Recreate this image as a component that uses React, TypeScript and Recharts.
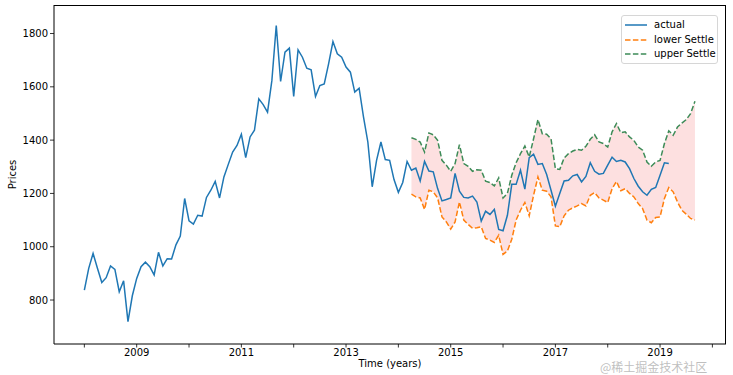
import React from "react";
import { Area, ComposedChart, Line, XAxis, YAxis } from "recharts";

// monthly closes from Jan 2008 to Mar 2019
const startYear = 2008;
const actualPrices = [
  837, 919, 975, 919, 866, 884, 928, 915, 831, 872, 719, 816,
  881, 925, 942, 925, 894, 979, 928, 955, 954, 1007, 1040, 1181,
  1097, 1085, 1118, 1115, 1185, 1212, 1245, 1183, 1262, 1309, 1355, 1380,
  1422, 1334, 1412, 1437, 1555, 1533, 1505, 1624, 1830, 1620, 1730, 1745,
  1564, 1739, 1711, 1670, 1664, 1564, 1605, 1611, 1686, 1770, 1724, 1711,
  1674, 1655, 1580, 1595, 1487, 1393, 1225, 1324, 1393, 1327, 1324, 1252,
  1204, 1241, 1320, 1287, 1295, 1247, 1320, 1284, 1281, 1218, 1172, 1177,
  1183, 1275, 1208, 1185, 1183, 1190, 1168, 1096, 1133, 1121, 1140, 1065,
  1060, 1118, 1234, 1234, 1287, 1216, 1334, 1347, 1309, 1312, 1271, 1212,
  1152, 1200, 1247, 1249, 1266, 1271, 1243, 1264, 1315, 1283, 1272, 1275,
  1306, 1336, 1320, 1324, 1318, 1293, 1256, 1227, 1206, 1193, 1215, 1222,
  1268, 1315, 1312,
];

// settle band starts Apr 2014 (month index 75) and runs to Sep 2019
const settleStart = 75;
const lowerSettle = [
  1197, 1187, 1183, 1140, 1212, 1206, 1183, 1112, 1093,
  1066, 1093, 1168, 1100, 1084, 1069, 1071, 1075, 1031, 1025, 1016, 1043,
  971, 984, 1028, 1100, 1137, 1166, 1116, 1193, 1262, 1212, 1208, 1187,
  1078, 1075, 1116, 1137, 1146, 1153, 1162, 1153, 1193, 1203, 1183, 1175,
  1166, 1218, 1245, 1210, 1218, 1200, 1187, 1162, 1143, 1100, 1090, 1110,
  1112, 1181, 1222, 1206, 1168, 1137, 1122, 1106, 1100,
];
const upperSettle = [
  1409, 1403, 1393, 1355, 1427, 1420, 1399, 1324, 1306,
  1283, 1312, 1383, 1312, 1302, 1283, 1289, 1287, 1246, 1241, 1228, 1258,
  1183, 1200, 1268, 1315, 1349, 1378, 1337, 1405, 1477, 1424, 1422, 1405,
  1293, 1290, 1333, 1349, 1359, 1365, 1362, 1377, 1403, 1420, 1393, 1387,
  1374, 1431, 1462, 1428, 1431, 1412, 1399, 1374, 1362, 1318, 1302, 1318,
  1324, 1387, 1435, 1418, 1449, 1464, 1477, 1499, 1546,
];

const yearTicks = [2008, 2009, 2010, 2011, 2012, 2013, 2014, 2015, 2016, 2017, 2018, 2019, 2020];
const priceTicks = [800, 1000, 1200, 1400, 1600, 1800];

const FONT = "'DejaVu Sans', sans-serif";

const monthCount = settleStart + lowerSettle.length;
const data = Array.from({ length: monthCount }, (_, m) => {
  const i = m - settleStart;
  const inBand = i >= 0;
  return {
    t: startYear + m / 12,
    actual: m < actualPrices.length ? actualPrices[m] : null,
    lower: inBand ? lowerSettle[i] : null,
    upper: inBand ? upperSettle[i] : null,
    band: inBand ? [lowerSettle[i], upperSettle[i]] : null,
  };
});

const YearTick = (props: any) => {
  const { x, y, payload } = props;
  const v = Math.round(payload.value);
  return (
    <g>
      <line x1={x} x2={x} y1={y} y2={y + 3.5} stroke="#000" strokeWidth={0.8} />
      {v % 2 === 1 && (
        <text x={x} y={y + 12} textAnchor="middle" fontSize={10} fontFamily={FONT} fill="#000">
          {v}
        </text>
      )}
    </g>
  );
};

const legendItems = [
  { name: "actual", color: "#1f77b4", dash: undefined },
  { name: "lower Settle", color: "#ff7f0e", dash: "5.5 2.4" },
  { name: "upper Settle", color: "#3d8b57", dash: "5.5 2.4" },
];

export default function App() {
  return (
    <div style={{ position: "absolute", left: 0, top: 0, width: 733, height: 375, background: "#fff" }}>
      <ComposedChart
        width={733}
        height={375}
        data={data}
        margin={{ top: 5, right: 7, left: 0, bottom: 0 }}
      >
        <XAxis
          dataKey="t"
          type="number"
          domain={[2007.42, 2020.26]}
          ticks={yearTicks}
          tick={<YearTick />}
          tickLine={false}
          tickSize={0}
          tickMargin={0}
          height={31}
          axisLine={{ stroke: "#000", strokeWidth: 1 }}
          interval={0}
          allowDataOverflow
          label={{
            value: "Time (years)",
            position: "insideBottom",
            offset: 8,
            fontSize: 10,
            fontFamily: FONT,
            fill: "#000",
          }}
        />
        <YAxis
          type="number"
          domain={[635, 1907]}
          ticks={priceTicks}
          width={54}
          tickSize={4}
          tickMargin={2}
          interval={0}
          allowDataOverflow
          tick={{ fontSize: 10, fontFamily: FONT, fill: "#000" }}
          tickLine={{ stroke: "#000", strokeWidth: 0.8 }}
          axisLine={{ stroke: "#000", strokeWidth: 1 }}
          label={{
            value: "Prices",
            angle: -90,
            position: "insideLeft",
            offset: 12,
            style: { textAnchor: "middle" },
            fontSize: 10,
            fontFamily: FONT,
            fill: "#000",
          }}
        />
        <Area
          dataKey="band"
          stroke="none"
          fill="#fde0e0"
          fillOpacity={1}
          isAnimationActive={false}
          connectNulls={false}
          activeDot={false}
        />
        <Line
          dataKey="actual"
          stroke="#1f77b4"
          strokeWidth={1.5}
          dot={false}
          isAnimationActive={false}
        />
        <Line
          dataKey="lower"
          stroke="#ff7f0e"
          strokeWidth={1.5}
          strokeDasharray="5.5 2.4"
          dot={false}
          isAnimationActive={false}
        />
        <Line
          dataKey="upper"
          stroke="#3d8b57"
          strokeWidth={1.5}
          strokeDasharray="5.5 2.4"
          dot={false}
          isAnimationActive={false}
        />
      </ComposedChart>

      {/* top and right spines */}
      <div
        style={{
          position: "absolute",
          left: 54,
          top: 5,
          width: 672,
          height: 339,
          borderTop: "1px solid #000",
          borderRight: "1px solid #000",
          boxSizing: "border-box",
          pointerEvents: "none",
        }}
      />

      <div
        style={{
          position: "absolute",
          left: 621,
          top: 15,
          width: 97,
          height: 49,
          border: "1px solid #d6d6d6",
          borderRadius: 3,
          background: "rgba(255,255,255,0.8)",
          fontFamily: FONT,
          fontSize: 10,
          color: "#000",
          boxSizing: "border-box",
          paddingTop: 2,
        }}
      >
        {legendItems.map((it) => (
          <div key={it.name} style={{ display: "flex", alignItems: "center", height: 14.5 }}>
            <svg width={30} height={10} style={{ marginLeft: 2 }}>
              <line
                x1={1}
                x2={23}
                y1={5}
                y2={5}
                stroke={it.color}
                strokeWidth={1.5}
                strokeDasharray={it.dash}
              />
            </svg>
            <span style={{ lineHeight: "14px" }}>{it.name}</span>
          </div>
        ))}
      </div>

      <div
        style={{
          position: "absolute",
          left: 600,
          top: 361,
          fontFamily: "'Noto Sans CJK SC', sans-serif",
          fontSize: 12,
          lineHeight: "12px",
          color: "rgba(170,170,170,0.75)",
          whiteSpace: "nowrap",
        }}
      >
        @稀土掘金技术社区
      </div>
    </div>
  );
}
